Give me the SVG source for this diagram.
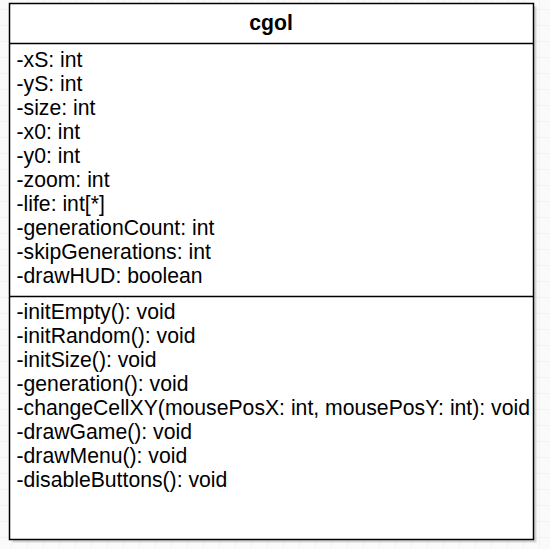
<svg xmlns="http://www.w3.org/2000/svg" width="550" height="549" viewBox="0 0 550 549">
  <defs>
    <pattern id="grid" width="16" height="16" patternUnits="userSpaceOnUse" x="-5" y="-7">
      <path d="M16 0 L0 0 0 16" fill="none" stroke="#ececec" stroke-width="1"/>
    </pattern>
  </defs>
  <style>
    .t { font-family: "Liberation Sans", Arial, sans-serif; font-size: 21.2px; fill: #000; }
    .b { font-weight: bold; }
    .box { fill: #fff; stroke: #000; stroke-width: 1.5; }
    .sep { stroke: #000; stroke-width: 1.5; fill: none; }
  </style>
  <rect width="550" height="549" fill="#fafafa"/>
  <rect width="550" height="549" fill="url(#grid)"/>
  <g id="cgol">
    <rect x="12.5" y="6.5" width="524" height="536" fill="#000" opacity="0.15"/>
    <rect class="box" x="9.5" y="3.5" width="524" height="536"/>
    <line class="sep" x1="9.5" y1="43.5" x2="533.5" y2="43.5"/>
    <line class="sep" x1="9.5" y1="296.5" x2="533.5" y2="296.5"/>
    <text class="t b" x="271" y="30" text-anchor="middle">cgol</text>
    <text class="t" x="16.5" y="66.5">-xS: int</text>
    <text class="t" x="16.5" y="90.5">-yS: int</text>
    <text class="t" x="16.5" y="114.5">-size: int</text>
    <text class="t" x="16.5" y="138.5">-x0: int</text>
    <text class="t" x="16.5" y="162.5">-y0: int</text>
    <text class="t" x="16.5" y="186.5">-zoom: int</text>
    <text class="t" x="16.5" y="210.5">-life: int[*]</text>
    <text class="t" x="16.5" y="234.5">-generationCount: int</text>
    <text class="t" x="16.5" y="258.5">-skipGenerations: int</text>
    <text class="t" x="16.5" y="282.5">-drawHUD: boolean</text>
    <text class="t" x="16.5" y="319">-initEmpty(): void</text>
    <text class="t" x="16.5" y="343">-initRandom(): void</text>
    <text class="t" x="16.5" y="367">-initSize(): void</text>
    <text class="t" x="16.5" y="391">-generation(): void</text>
    <text class="t" x="16.5" y="415">-changeCellXY(mousePosX: int, mousePosY: int): void</text>
    <text class="t" x="16.5" y="439">-drawGame(): void</text>
    <text class="t" x="16.5" y="463">-drawMenu(): void</text>
    <text class="t" x="16.5" y="487">-disableButtons(): void</text>
  </g>
</svg>
